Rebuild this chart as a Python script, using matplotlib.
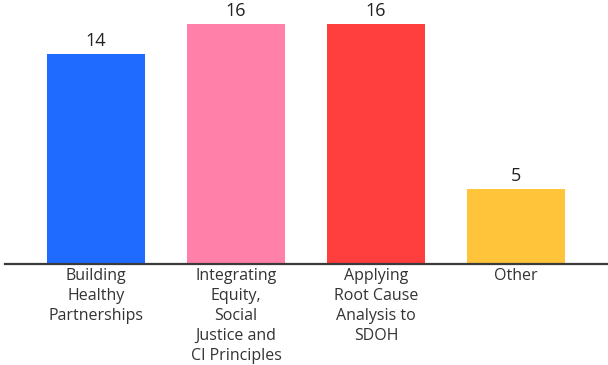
import matplotlib
matplotlib.use("Agg")
import matplotlib.pyplot as plt

categories = ["Building\nHealthy\nPartnerships",
              "Integrating\nEquity,\nSocial\nJustice and\nCI Principles",
              "Applying\nRoot Cause\nAnalysis to\nSDOH",
              "Other"]
values = [14, 16, 16, 5]
colors = ["#1f6aff", "#ff80a8", "#ff3e3e", "#ffc43a"]

plt.rcParams['font.family'] = ['Open Sans', 'DejaVu Sans']

fig = plt.figure(figsize=(6.08, 3.65), dpi=100)
ax = fig.add_axes([5/608, 101/365, 603/608, 264/365])
x = range(len(values))
bars = ax.bar(x, values, width=0.7, color=colors)
ax.set_xlim(-0.65, 3.657)
ax.set_ylim(0, 264/15)
for b, v in zip(bars, values):
    ax.annotate(str(v), (b.get_x() + b.get_width()/2, v), xytext=(0, 3),
                textcoords="offset points", ha="center", va="bottom",
                fontsize=13, color="#222222")
ax.set_xticks(list(x))
ax.set_xticklabels(categories, fontsize=11.5, color="#333333", linespacing=1.33)
ax.tick_params(axis='x', length=0, pad=3)
ax.set_yticks([])
for s in ['top', 'right', 'left']:
    ax.spines[s].set_visible(False)
ax.spines['bottom'].set_color("#3a3a3a")
ax.spines['bottom'].set_linewidth(1.6)
fig.savefig("out.png", dpi=100)
